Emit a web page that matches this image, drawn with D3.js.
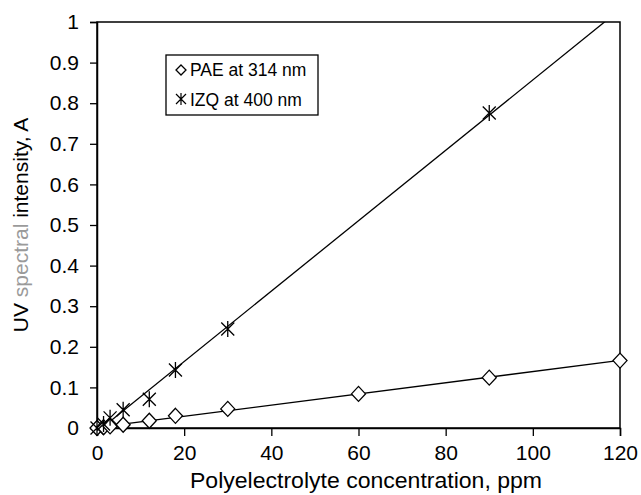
<!DOCTYPE html>
<html>
<head>
<meta charset="utf-8">
<script src="https://cdn.jsdelivr.net/npm/d3@7"></script>
<style>
  body { margin: 0; background: #fff; }
  text { font-family: "Liberation Sans", Arial, sans-serif; fill: #000; }
</style>
</head>
<body>
<svg width="641" height="495"></svg>
<script>
"use strict";

// 데이터
const paeX = [0, 1.5, 3, 6, 12, 18, 30, 60, 90, 120];
const paeY = [0, 0.002, 0.004, 0.008, 0.018, 0.03, 0.047, 0.084, 0.124, 0.166];
const izqX = [0, 1.5, 3, 6, 12, 18, 30, 90];
const izqY = [0, 0.01, 0.025, 0.045, 0.071, 0.143, 0.244, 0.776];
const xTicks = [0, 20, 40, 60, 80, 100, 120];
const yTicks = [0, 0.1, 0.2, 0.3, 0.4, 0.5, 0.6, 0.7, 0.8, 0.9, 1];

const svg = d3.select("svg");
const pLeft = 97, pRight = 620, pTop = 22, pBottom = 428;

const x = d3.scaleLinear().domain([0, 120]).range([pLeft, pRight]);
const y = d3.scaleLinear().domain([0, 1]).range([pBottom, pTop]);

// 최소제곱 추세선
function fit(xs, ys) {
  const mx = d3.mean(xs), my = d3.mean(ys);
  const b = d3.sum(xs, (v, i) => (v - mx) * (ys[i] - my)) / d3.sum(xs, v => (v - mx) * (v - mx));
  return { b: b, a: my - b * mx };
}

svg.append("clipPath").attr("id", "plot")
  .append("rect").attr("x", pLeft).attr("y", pTop)
  .attr("width", pRight - pLeft).attr("height", pBottom - pTop);

// 테두리
svg.append("rect")
  .attr("x", pLeft).attr("y", pTop)
  .attr("width", pRight - pLeft).attr("height", pBottom - pTop)
  .style("fill", "none").style("stroke", "#000").style("stroke-width", "1.5px");

// 축
const xAxis = svg.append("g").attr("transform", `translate(0,${pBottom})`)
  .call(d3.axisBottom(x).tickValues(xTicks).tickSize(8).tickPadding(9).tickFormat(d3.format("d")));
const yAxis = svg.append("g").attr("transform", `translate(${pLeft},0)`)
  .call(d3.axisLeft(y).tickValues(yTicks).tickSize(7).tickPadding(11).tickFormat(d => d === 0 || d === 1 ? d : d.toFixed(1)));
[xAxis, yAxis].forEach(g => {
  g.select(".domain").style("stroke-width", "1.5px");
  g.selectAll(".tick line").style("stroke-width", "1.3px");
  g.selectAll("text").style("font-size", "21px").style("font-family", "Liberation Sans, Arial, sans-serif");
});

// 추세선
[[paeX, paeY], [izqX, izqY]].forEach(([xs, ys]) => {
  const f = fit(xs, ys);
  svg.append("line")
    .attr("clip-path", "url(#plot)")
    .attr("x1", x(0)).attr("y1", y(f.a))
    .attr("x2", x(120)).attr("y2", y(f.a + f.b * 120))
    .style("stroke", "#000").style("stroke-width", "1.3px");
});

// 마름모 (PAE)
const diamond = "M0,-7.5L7,0L0,7.5L-7,0Z";
svg.append("g").selectAll("path").data(paeX).join("path")
  .attr("transform", (d, i) => `translate(${x(d)},${y(paeY[i])})`)
  .attr("d", diamond)
  .style("fill", "#fff").style("stroke", "#000").style("stroke-width", "1.3px");

// 별표 (IZQ)
const star = "M0,-8L0,8M-6.5,-6.5L6.5,6.5M-6.5,6.5L6.5,-6.5";
svg.append("g").selectAll("path").data(izqX).join("path")
  .attr("transform", (d, i) => `translate(${x(d)},${y(izqY[i])})`)
  .attr("d", star)
  .style("fill", "none").style("stroke", "#000").style("stroke-width", "1.3px");

// 범례
const lg = svg.append("g");
lg.append("rect").attr("x", 166).attr("y", 55).attr("width", 152).attr("height", 60)
  .style("fill", "#fff").style("stroke", "#000").style("stroke-width", "1.3px");
lg.append("path").attr("transform", "translate(181,70)").attr("d", "M0,-5L5,0L0,5L-5,0Z")
  .style("fill", "#fff").style("stroke", "#000").style("stroke-width", "1.3px");
lg.append("path").attr("transform", "translate(181,99)").attr("d", "M0,-6L0,6M-5,-5L5,5M-5,5L5,-5")
  .style("fill", "none").style("stroke", "#000").style("stroke-width", "1.2px");
lg.append("text").attr("x", 190).attr("y", 76).style("font-size", "17.5px").text("PAE at 314 nm");
lg.append("text").attr("x", 190).attr("y", 106).style("font-size", "17.5px").text("IZQ at 400 nm");

// 축 제목
svg.append("text")
  .attr("x", 366).attr("y", 488)
  .attr("text-anchor", "middle").style("font-size", "21.5px")
  .attr("textLength", 352).attr("lengthAdjust", "spacingAndGlyphs")
  .text("Polyelectrolyte concentration, ppm");

const yt = svg.append("text")
  .attr("transform", `translate(28,${(pTop + pBottom) / 2}) rotate(-90)`)
  .attr("text-anchor", "middle").style("font-size", "21px");
yt.append("tspan").text("UV ");
yt.append("tspan").style("fill", "#9a9a9a").text("spectral");
yt.append("tspan").text(" intensity, A");
</script>
</body>
</html>
